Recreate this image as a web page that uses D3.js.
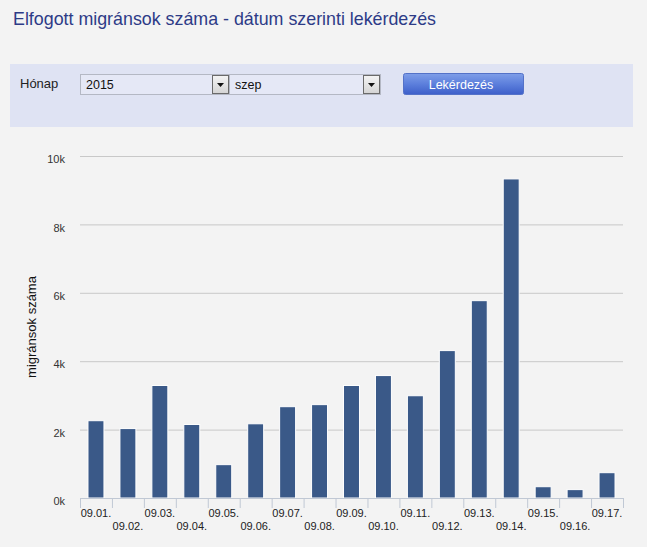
<!DOCTYPE html>
<html>
<head>
<meta charset="utf-8">
<script src="https://cdn.jsdelivr.net/npm/d3@7"></script>
<style>
  html, body { margin: 0; padding: 0; background: #f3f3f3; }
  svg { display: block; }
</style>
</head>
<body>
<div id="plot"></div>
<script>
// data
const days = ["09.01.", "09.02.", "09.03.", "09.04.", "09.05.", "09.06.", "09.07.", "09.08.", "09.09.",
  "09.10.", "09.11.", "09.12.", "09.13.", "09.14.", "09.15.", "09.16.", "09.17."];
const migrants = [2260, 2030, 3290, 2150, 975, 2170, 2670, 2730, 3290,
  3580, 2990, 4310, 5770, 9330, 330, 245, 740];
const yTicks = [0, 2000, 4000, 6000, 8000, 10000];
const yTickLabels = ["0k", "2k", "4k", "6k", "8k", "10k"];

const titleText = "Elfogott migránsok száma - dátum szerinti lekérdezés";
const yearText = "2015";
const monthText = "szep";

const W = 647, H = 547;
const margin = { top: 156, right: 24, bottom: 49, left: 80 };
const width = W - margin.left - margin.right;
const height = H - margin.top - margin.bottom;

const svg = d3.select("#plot")
  .append("svg")
  .attr("width", W)
  .attr("height", H)
  .style("font-family", "'Liberation Sans', Arial, sans-serif");

svg.append("rect").attr("width", W).attr("height", H).attr("fill", "#f3f3f3");

// gradients for the form widgets
const defs = svg.append("defs");
const btnGrad = defs.append("linearGradient").attr("id", "btnGrad").attr("x1", 0).attr("y1", 0).attr("x2", 0).attr("y2", 1);
btnGrad.append("stop").attr("offset", "0%").attr("stop-color", "#7f9ee8");
btnGrad.append("stop").attr("offset", "50%").attr("stop-color", "#5c7fdc");
btnGrad.append("stop").attr("offset", "100%").attr("stop-color", "#3d5fc9");
const arrGrad = defs.append("linearGradient").attr("id", "arrGrad").attr("x1", 0).attr("y1", 0).attr("x2", 0).attr("y2", 1);
arrGrad.append("stop").attr("offset", "0%").attr("stop-color", "#f4f4f4");
arrGrad.append("stop").attr("offset", "100%").attr("stop-color", "#d4d4d4");

// title
svg.append("text")
  .attr("x", 13)
  .attr("y", 25)
  .attr("fill", "#2d3b87")
  .attr("textLength", 423)
  .attr("lengthAdjust", "spacingAndGlyphs")
  .style("font-family", "'Liberation Sans Narrow', 'Liberation Sans', sans-serif")
  .style("font-size", "18.5px")
  .text(titleText);

// query panel
const panel = svg.append("g");
panel.append("rect")
  .attr("x", 10).attr("y", 64).attr("width", 623).attr("height", 63)
  .attr("fill", "#dfe3f3");

panel.append("text")
  .attr("x", 20).attr("y", 88)
  .attr("fill", "#222")
  .style("font-size", "13px")
  .text("Hónap");

function selectBox(x, w, label) {
  const g = panel.append("g");
  g.append("rect")
    .attr("x", x + 0.5).attr("y", 74.5).attr("width", w).attr("height", 20)
    .attr("fill", "#e5e8f6").attr("stroke", "#b4b8c4");
  g.append("text")
    .attr("x", x + 6).attr("y", 89)
    .attr("fill", "#111")
    .style("font-size", "12.5px")
    .text(label);
  const ax = x + w - 17;
  g.append("rect")
    .attr("x", ax + 0.5).attr("y", 75.5).attr("width", 16).attr("height", 18)
    .attr("fill", "url(#arrGrad)").attr("stroke", "#6a6a6a");
  g.append("path")
    .attr("d", `M${ax + 5},${83}L${ax + 12},${83}L${ax + 8.5},${87}Z`)
    .attr("fill", "#111");
}
selectBox(80, 149, yearText);
selectBox(229, 151, monthText);

panel.append("rect")
  .attr("x", 403.5).attr("y", 73.5).attr("width", 120).attr("height", 21)
  .attr("rx", 2)
  .attr("fill", "url(#btnGrad)").attr("stroke", "#5472c8");
panel.append("text")
  .attr("x", 461).attr("y", 89)
  .attr("text-anchor", "middle")
  .attr("fill", "#fff")
  .style("font-size", "12.5px")
  .text("Lekérdezés");

// chart
const g = svg.append("g").attr("transform", `translate(${margin.left},${margin.top})`);

const x = d3.scaleBand()
  .domain(days)
  .range([0, width])
  .paddingInner(0.5)
  .paddingOuter(0.25);

const xCat = d3.scaleBand()
  .domain(days)
  .range([0, width]);

const y = d3.scaleLinear()
  .domain([0, 10000])
  .range([height, 0]);

// grid + y labels
const yAxis = g.append("g")
  .call(d3.axisLeft(y).tickValues(yTicks).tickSize(-width).tickFormat((d, i) => yTickLabels[i]));
yAxis.select(".domain").remove();
yAxis.selectAll(".tick line").attr("stroke", "#c8c8c8");
yAxis.selectAll(".tick text")
  .attr("x", -15)
  .attr("dy", "0.6em")
  .attr("fill", "#333")
  .style("font-family", "'Liberation Sans', Arial, sans-serif")
  .style("font-size", "11px");

// y title
svg.append("text")
  .attr("transform", `translate(36,${margin.top + height / 2}) rotate(-90)`)
  .attr("text-anchor", "middle")
  .attr("fill", "#111")
  .style("font-size", "13px")
  .text("migránsok száma");

// bars
g.selectAll(".bar")
  .data(migrants)
  .enter().append("rect")
  .attr("class", "bar")
  .attr("x", (d, i) => x(days[i]))
  .attr("y", d => y(d))
  .attr("width", x.bandwidth())
  .attr("height", d => height - y(d))
  .attr("fill", "#3a5988")
  .attr("stroke", "#ffffff")
  .attr("stroke-width", 1);

// x axis with category boundary ticks and staggered labels
const xAxis = g.append("g")
  .attr("transform", `translate(0,${height})`)
  .call(d3.axisBottom(xCat).tickSize(0).tickSizeOuter(0));
xAxis.select(".domain").attr("stroke", "#c0c8d4");
xAxis.selectAll(".tick text")
  .attr("y", (d, i) => i % 2 === 0 ? 19 : 32)
  .attr("dy", 0)
  .attr("fill", "#222")
  .style("font-family", "'Liberation Sans', Arial, sans-serif")
  .style("font-size", "11px");

const edges = days.map(d => xCat(d)).concat([width]);
xAxis.selectAll(".edge")
  .data(edges)
  .enter().append("line")
  .attr("class", "edge")
  .attr("x1", d => d + 0.5).attr("x2", d => d + 0.5)
  .attr("y1", 0).attr("y2", 10)
  .attr("stroke", "#c0c8d4");
</script>
</body>
</html>
